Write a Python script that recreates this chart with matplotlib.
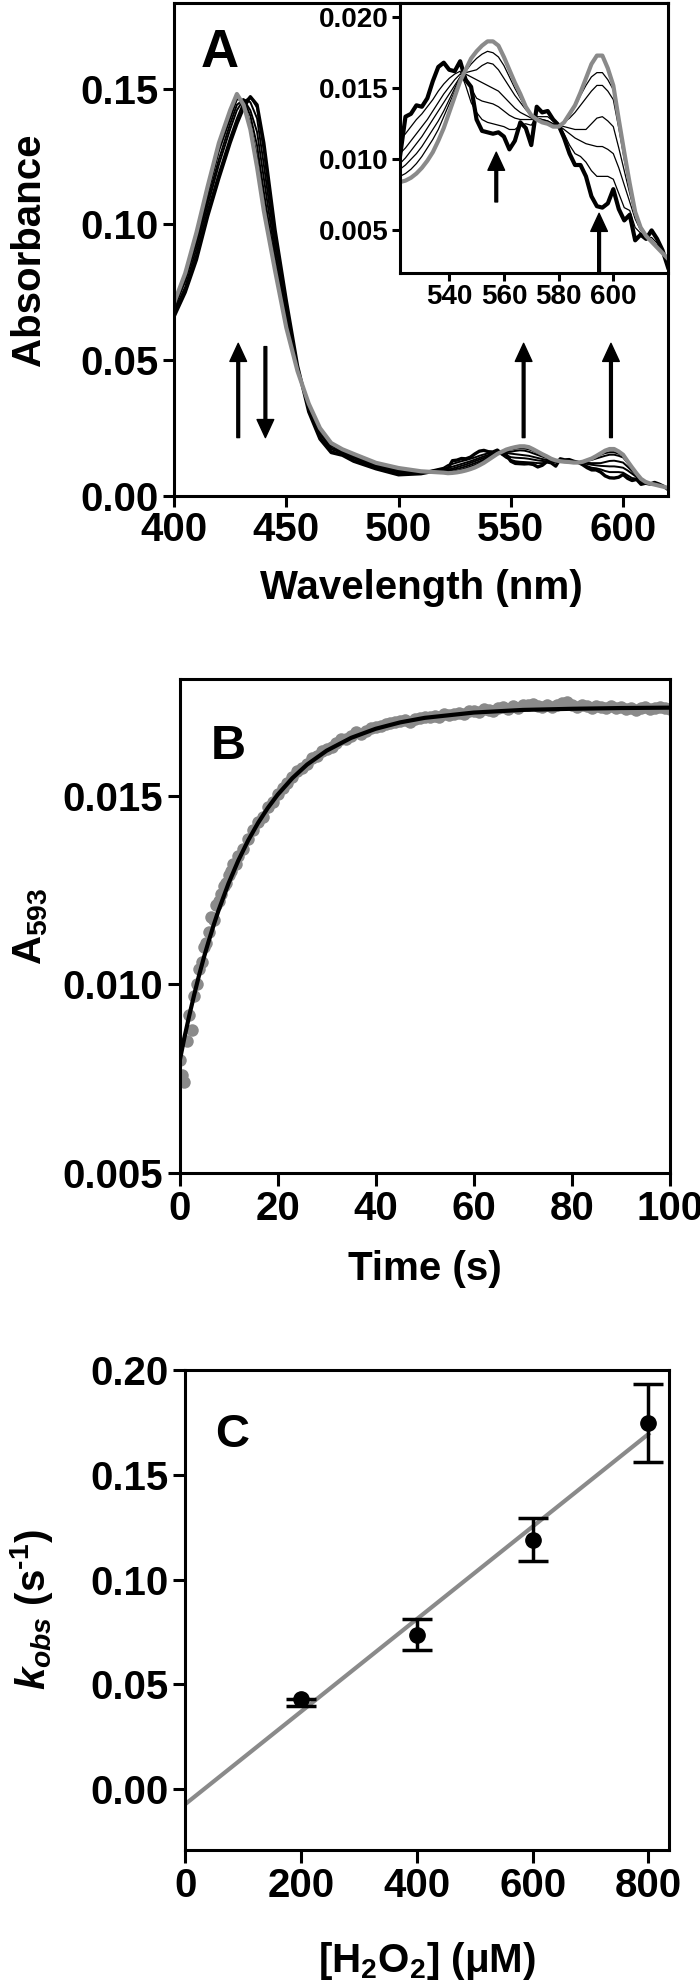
import numpy as np
import matplotlib
matplotlib.use('Agg')
import matplotlib.pyplot as plt
from matplotlib.ticker import FormatStrFormatter

# ---- panel A: spectra (nm / absorbance) ----
wl = np.concatenate([[400, 405, 410, 415, 420, 425, 428, 431, 434, 437, 440, 445, 450,
                      455, 460, 465, 470, 475, 480, 490, 500, 510, 520],
                     np.arange(522, 621, 2)])

abs_start = [.066, .075, .087, .103, .117, .130, .137, .143, .147, .144, .130, .098, .072,
             .048, .031, .021, .0160, .0150, .0128, .0100, .0078, .0082, .0098,
             .0102, .0130, .0132, .0138, .0137, .0143, .0155, .0165, .0168, .0163,
             .0162, .0169, .0156, .0151, .0128, .0120, .0119, .0118, .0119, .0116,
             .0107, .0113, .0126, .0122, .0110, .0137, .0133, .0134, .0128, .0124,
             .0115, .0104, .0096, .0096, .0088, .0074, .0067, .0066, .0069, .0079,
             .0065, .0057, .0061, .0043, .0047, .0044, .0050, .0044, .0036, .0024]
abs_mid1 = [.067, .076, .089, .105, .119, .132, .139, .145, .147, .143, .127, .095, .070,
            .047, .032, .022, .0165, .0153, .0132, .0104, .0085, .0085, .0104,
            .0114, .0118, .0123, .0128, .0132, .0137, .0142, .0148, .0153, .0157,
            .0160, .0162, .0152, .0140, .0133, .0128, .0126, .0125, .0124, .0123,
            .0121, .0121, .0124, .0125, .0124, .0130, .0130, .0130, .0127, .0125,
            .0118, .0110, .0104, .0102, .0098, .0092, .0088, .0088, .0088, .0086,
            .0076, .0066, .0064, .0052, .0048, .0045, .0045, .0041, .0035, .0027]
abs_mid2 = [.068, .077, .091, .107, .122, .135, .142, .146, .145, .139, .122, .092, .068,
            .047, .032, .023, .0172, .0158, .0138, .0108, .0090, .0087, .0099,
            .0104, .0108, .0113, .0118, .0123, .0128, .0134, .0140, .0146, .0151,
            .0156, .0160, .0158, .0150, .0143, .0141, .0140, .0139, .0137, .0134,
            .0131, .0129, .0128, .0128, .0128, .0129, .0128, .0127, .0125, .0124,
            .0121, .0118, .0115, .0113, .0111, .0110, .0109, .0109, .0107, .0104,
            .0094, .0082, .0070, .0058, .0050, .0046, .0042, .0038, .0034, .0029]
abs_mid3 = [.069, .079, .093, .109, .124, .137, .144, .146, .142, .134, .117, .089, .066,
            .046, .033, .024, .0178, .0162, .0143, .0112, .0095, .0089, .0094,
            .0097, .0101, .0106, .0111, .0116, .0122, .0128, .0134, .0140, .0146,
            .0152, .0158, .0160, .0158, .0156, .0154, .0152, .0150, .0148, .0144,
            .0140, .0136, .0133, .0131, .0129, .0129, .0128, .0127, .0125, .0124,
            .0123, .0122, .0121, .0121, .0121, .0125, .0129, .0130, .0127, .0123,
            .0108, .0092, .0076, .0061, .0051, .0046, .0043, .0039, .0034, .0030]
abs_mid4 = [.070, .080, .094, .111, .127, .139, .146, .146, .140, .129, .112, .086, .064,
            .046, .033, .025, .0185, .0166, .0148, .0116, .0099, .0090, .0091,
            .0093, .0096, .0100, .0104, .0109, .0115, .0121, .0127, .0134, .0142,
            .0150, .0158, .0161, .0162, .0163, .0166, .0168, .0167, .0163, .0157,
            .0151, .0145, .0140, .0135, .0131, .0128, .0127, .0126, .0124, .0124,
            .0126, .0129, .0133, .0138, .0143, .0148, .0152, .0152, .0148, .0142,
            .0122, .0100, .0080, .0063, .0052, .0047, .0043, .0039, .0034, .0030]
abs_mid5 = [.070, .081, .096, .112, .128, .141, .147, .145, .137, .125, .108, .084, .063,
            .046, .034, .025, .0190, .0169, .0152, .0119, .0102, .0091, .0088,
            .0088, .0090, .0093, .0097, .0102, .0108, .0114, .0121, .0130, .0139,
            .0148, .0157, .0162, .0167, .0171, .0174, .0176, .0175, .0172, .0166,
            .0158, .0150, .0143, .0136, .0131, .0128, .0126, .0125, .0123, .0123,
            .0126, .0131, .0137, .0145, .0152, .0158, .0161, .0161, .0156, .0149,
            .0128, .0105, .0082, .0063, .0053, .0047, .0043, .0039, .0034, .0030]
abs_end = [.071, .082, .097, .114, .130, .142, .148, .144, .135, .121, .105, .083, .062,
           .046, .034, .025, .0195, .0172, .0155, .0122, .0103, .0091, .0086,
           .0084, .0085, .0087, .0090, .0094, .0099, .0105, .0113, .0122, .0133,
           .0144, .0155, .0163, .0171, .0176, .0180, .0183, .0183, .0180, .0172,
           .0163, .0154, .0146, .0137, .0131, .0128, .0126, .0125, .0123, .0123,
           .0126, .0132, .0138, .0147, .0157, .0167, .0173, .0173, .0164, .0152,
           .0128, .0105, .0083, .0063, .0052, .0046, .0042, .0038, .0034, .0030]

# ---- panel B: A593 vs time ----
t_obs = np.concatenate([np.arange(0, 12.5, 0.5), np.arange(13, 101, 1)])
a593_obs = [.0080, .0076, .0074, .0085, .0092, .0088, .0097, .0100, .0104, .0106,
            .0110, .0111, .0114, .0118, .0117, .0121, .0122, .0124, .0126, .0127,
            .0129, .0130, .0132, .0132, .0134,
            .01360, .01385, .01410, .01430, .01445, .01470, .01485, .01505, .01520, .01535,
            .01550, .01565, .01575, .01585, .01600, .01605, .01620, .01625, .01630, .01640,
            .01650, .01650, .01660, .01670, .01665, .01672, .01680, .01682, .01685, .01690,
            .01692, .01695, .01698, .01700, .01695, .01705, .01706, .01708, .01710, .01712,
            .01710, .01716, .01714, .01718, .01720, .01716, .01724, .01726, .01722, .01730,
            .01728, .01726, .01732, .01735, .01730, .01738, .01734, .01740, .01742, .01745,
            .01738, .01736, .01740, .01735, .01742, .01746, .01748, .01740, .01736, .01742,
            .01738, .01734, .01738, .01736, .01732, .01738, .01734, .01736, .01730, .01734,
            .01728, .01734, .01736, .01730, .01734, .01736, .01732, .01730]
t_fit = [0, 1, 2, 3, 4, 5, 6, 7, 8, 10, 12, 14, 16, 18, 20, 23, 26, 30, 35, 40, 45, 50,
         60, 70, 80, 90, 100]
a593_fit = [.00795, .00859, .00918, .00973, .01025, .01073, .01117, .01159, .01198,
            .01268, .01329, .01382, .01428, .01468, .01503, .01547, .01583, .01620,
            .01654, .01678, .01695, .01707, .01721, .01728, .01731, .01733, .01734]

# ---- panel C: kobs vs [H2O2] ----
h2o2 = [200, 400, 600, 800]
kobs = [0.0429, 0.0737, 0.119, 0.1745]
kobs_err_lo = [0.0034, 0.0074, 0.0102, 0.0186]
kobs_err_hi = [0.0, 0.0074, 0.0102, 0.0186]
line_x = [0, 800]
line_y = [-0.0071, 0.1694]

GREY = '#8a8a8a'

plt.rcParams['font.family'] = ['Liberation Sans', 'DejaVu Sans']
plt.rcParams['font.weight'] = 'bold'
plt.rcParams['axes.labelweight'] = 'bold'
plt.rcParams['mathtext.fontset'] = 'custom'
plt.rcParams['mathtext.rm'] = 'Liberation Sans:bold'
plt.rcParams['mathtext.bf'] = 'Liberation Sans:bold'
plt.rcParams['mathtext.it'] = 'Liberation Sans:bold:italic'
plt.rcParams['mathtext.sf'] = 'Liberation Sans'
plt.rcParams['axes.linewidth'] = 2.2

W, H = 700, 1986
fig = plt.figure(figsize=(7, 19.86), dpi=100)


def box(l, t, r, b):
    return [l / W, 1 - b / H, (r - l) / W, (b - t) / H]


def style(ax, size=29, length=8, pad=3):
    ax.tick_params(direction='out', length=length, width=2.2, labelsize=size, pad=pad,
                   top=False, right=False)


def up_arrow(ax, x, y0, y1):
    ax.annotate('', xy=(x, y1), xytext=(x, y0),
                arrowprops=dict(facecolor='black', edgecolor='black', width=2.0,
                                headwidth=12, headlength=13, shrink=0))


# A
ax = fig.add_axes(box(174, 3, 668, 496))
ax.plot(wl, abs_start, color='black', lw=2.4)
for s in [abs_mid1, abs_mid2, abs_mid3, abs_mid4, abs_mid5]:
    ax.plot(wl, s, color='black', lw=1.4)
ax.plot(wl, abs_end, color=GREY, lw=3)
ax.set_xlim(400, 620)
ax.set_ylim(0, 0.1815)
ax.set_xticks([400, 450, 500, 550, 600])
ax.set_yticks([0, 0.05, 0.10, 0.15])
ax.yaxis.set_major_formatter(FormatStrFormatter('%.2f'))
style(ax)
up_arrow(ax, 428.6, 0.0215, 0.0562)
up_arrow(ax, 440.7, 0.055, 0.0215)
up_arrow(ax, 555.7, 0.0215, 0.0562)
up_arrow(ax, 594.6, 0.0215, 0.0562)
ax.text(420.5, 0.163, 'A', fontsize=38, ha='center', va='center')
ax.set_xlabel('Wavelength (nm)', fontsize=29)
ax.set_ylabel('Absorbance', fontsize=29)
ax.xaxis.set_label_coords(0.5, -0.186)
ax.xaxis.label.set_va('center')
ax.yaxis.set_label_coords(-0.2935, 0.5)
ax.yaxis.label.set_va('center')

# A inset
ins = fig.add_axes(box(400, 3, 668, 273))
ins.plot(wl, abs_start, color='black', lw=3)
for s in [abs_mid1, abs_mid2, abs_mid3, abs_mid4, abs_mid5]:
    ins.plot(wl, s, color='black', lw=0.9)
ins.plot(wl, abs_end, color=GREY, lw=3)
ins.set_xlim(522, 620)
ins.set_ylim(0.002, 0.021)
ins.set_xticks([540, 560, 580, 600])
ins.set_yticks([0.005, 0.010, 0.015, 0.020])
ins.yaxis.set_major_formatter(FormatStrFormatter('%.3f'))
style(ins, size=20, length=6, pad=2)
up_arrow(ins, 557.2, 0.0070, 0.0105)
up_arrow(ins, 594.8, 0.0020, 0.0062)

# B
ax = fig.add_axes(box(179.5, 679, 670, 1173))
ax.plot(t_obs, a593_obs, 'o', color=GREY, ms=9, mec='none')
ax.plot(t_fit, a593_fit, color='black', lw=3)
ax.set_xlim(0, 100)
ax.set_ylim(0.005, 0.0181)
ax.set_xticks([0, 20, 40, 60, 80, 100])
ax.set_yticks([0.005, 0.010, 0.015])
ax.yaxis.set_major_formatter(FormatStrFormatter('%.3f'))
style(ax, length=9)
ax.text(10, 0.01632, 'B', fontsize=35, ha='center', va='center')
ax.set_xlabel('Time (s)', fontsize=29)
ax.set_ylabel(r'A$_{\mathsf{593}}$', fontsize=29)
ax.xaxis.set_label_coords(0.5, -0.195)
ax.xaxis.label.set_va('center')
ax.yaxis.set_label_coords(-0.303, 0.5)
ax.yaxis.label.set_va('center')

# C
ax = fig.add_axes(box(185.3, 1370, 668.6, 1850))
ax.plot(line_x, line_y, color=GREY, lw=3, zorder=1)
ax.errorbar(h2o2, kobs, yerr=[kobs_err_lo, kobs_err_hi], fmt='none', ecolor='black',
            elinewidth=2.5, capsize=11, capthick=2.5, zorder=2)
ax.plot(h2o2, kobs, 'o', color='black', ms=11, zorder=3)
ax.set_xlim(0, 835)
ax.set_ylim(-0.029, 0.20)
ax.set_xticks([0, 200, 400, 600, 800])
ax.set_yticks([0, 0.05, 0.10, 0.15, 0.20])
ax.yaxis.set_major_formatter(FormatStrFormatter('%.2f'))
style(ax, length=9)
ax.text(81, 0.169, 'C', fontsize=34, ha='center', va='center')
ax.set_xlabel(r'[H$_{\rm 2}$O$_{\rm 2}$] (μM)', fontsize=29)
ax.set_ylabel(r'$k_{obs}$ (s$^{\rm ‐1}$)', fontsize=29)
ax.xaxis.set_label_coords(0.5, -0.232)
ax.xaxis.label.set_va('center')
ax.yaxis.set_label_coords(-0.319, 0.5)
ax.yaxis.label.set_va('center')

fig.savefig('out.png', dpi=100)
